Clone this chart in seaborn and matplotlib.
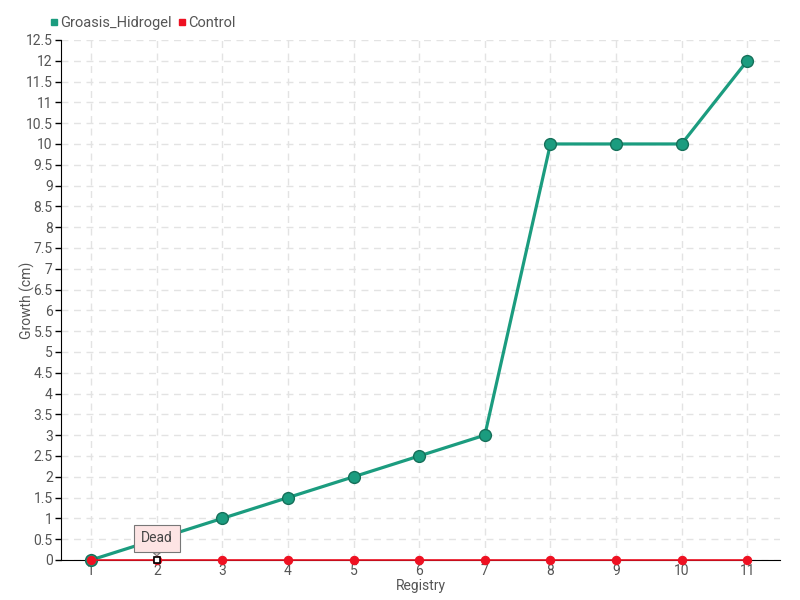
import pandas as pd
import seaborn as sns
import matplotlib.pyplot as plt
from matplotlib.lines import Line2D

registry = [1, 2, 3, 4, 5, 6, 7, 8, 9, 10, 11]
groasis_hidrogel = [0, 0.5, 1, 1.5, 2, 2.5, 3, 10, 10, 10, 12]
control = [0, 0, 0, 0, 0, 0, 0, 0, 0, 0, 0]
y_ticks = [0, 0.5, 1, 1.5, 2, 2.5, 3, 3.5, 4, 4.5, 5, 5.5, 6, 6.5, 7, 7.5, 8, 8.5,
           9, 9.5, 10, 10.5, 11, 11.5, 12, 12.5]

GREEN = "#1b9c7f"
RED = "#ee1122"
TEXT = "#555555"

sns.set_style("white")
plt.rcParams["font.family"] = ["Roboto", "DejaVu Sans"]

df = pd.DataFrame({"registry": registry, "Groasis_Hidrogel": groasis_hidrogel, "Control": control})

fig = plt.figure(figsize=(8, 6), dpi=100)
ax = fig.add_axes([0.07625, 0.0667, 0.8988, 0.8667])

sns.lineplot(data=df, x="registry", y="Groasis_Hidrogel", ax=ax, color=GREEN, linewidth=2.3,
             marker="o", markersize=8.5, markerfacecolor=GREEN, markeredgecolor="#15705a",
             markeredgewidth=1.0, zorder=3, clip_on=False)
sns.lineplot(data=df, x="registry", y="Control", ax=ax, color=RED, linewidth=1.2,
             marker="o", markersize=6, markerfacecolor=RED, markeredgecolor=RED,
             zorder=5, clip_on=False)
# point highlighted by the tooltip
ax.plot([2], [0], marker="s", markersize=5, markerfacecolor="white",
        markeredgecolor="black", markeredgewidth=1.2, zorder=6, clip_on=False)

ax.annotate("Dead", xy=(2, 0), xytext=(0, 15.5), textcoords="offset points",
            ha="center", va="center", fontsize=10, color="#444444",
            bbox=dict(boxstyle="square,pad=0.5", fc="#fde4e4", ec="#777777", lw=0.8),
            arrowprops=dict(arrowstyle="wedge,tail_width=0.5", fc="#fde4e4", ec="#777777",
                            lw=0.8, shrinkA=0, shrinkB=3),
            zorder=7)

ax.set_xlim(0.54, 11.5)
ax.set_ylim(0, 12.5)
ax.set_xticks(registry)
ax.set_yticks(y_ticks)
ax.set_yticklabels([f"{v:g}" for v in y_ticks])
ax.grid(True, linestyle=(0, (5, 4)), color="#e3e3e3", linewidth=1)
ax.set_axisbelow(True)

for side in ["top", "right"]:
    ax.spines[side].set_visible(False)
ax.spines["left"].set_color("black")
ax.spines["bottom"].set_color("black")
ax.spines["bottom"].set_zorder(2)
ax.tick_params(axis="y", direction="out", length=4, width=1, color="black",
               labelsize=10, labelcolor=TEXT, pad=2, left=True)
ax.tick_params(axis="x", direction="out", length=3, width=1, color="#888888",
               labelsize=10, labelcolor=TEXT, pad=0, bottom=True)

ax.set_xlabel("Registry", fontsize=10, color=TEXT)
ax.xaxis.set_label_coords(0.5, -0.036)
ax.set_ylabel("Growth (cm)", fontsize=10, color=TEXT)
ax.yaxis.set_label_coords(-0.036, 0.5)

handles = [
    Line2D([], [], linestyle="none", marker="s", markersize=4.5, color=GREEN, label="Groasis_Hidrogel"),
    Line2D([], [], linestyle="none", marker="s", markersize=4.5, color=RED, label="Control"),
]
fig.legend(handles=handles, loc="upper left", bbox_to_anchor=(0.046, 0.995), ncol=2,
           frameon=False, fontsize=10.5, handlelength=0.6, handletextpad=0.1,
           columnspacing=0.4, labelcolor=TEXT)

fig.savefig("out.png", dpi=100)
